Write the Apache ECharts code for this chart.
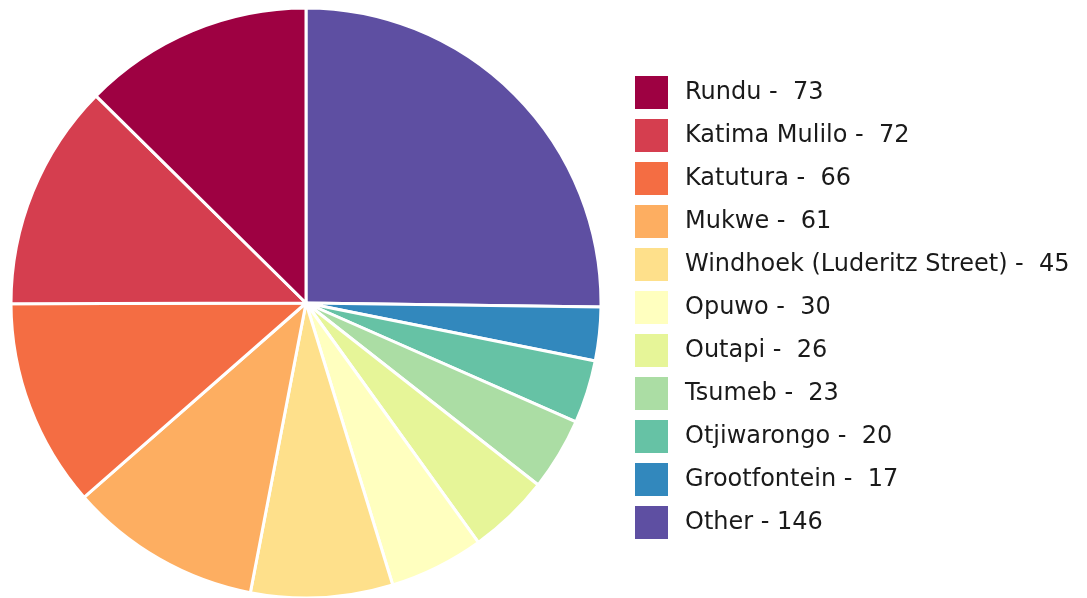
<!DOCTYPE html>
<html>
<head>
<meta charset="utf-8">
<script src="https://cdn.jsdelivr.net/npm/echarts@6/dist/echarts.min.js"></script>
<style>
html,body{margin:0;padding:0;background:#fff;}
#main{width:1087px;height:598px;}
</style>
</head>
<body>
<div id="main"></div>
<script>
// Legend order (top to bottom)
const names = ["Rundu","Katima Mulilo","Katutura","Mukwe","Windhoek (Luderitz Street)","Opuwo","Outapi","Tsumeb","Otjiwarongo","Grootfontein","Other"];
const values = [73,72,66,61,45,30,26,23,20,17,146];
const colors = ["#9E0142","#D53E4F","#F46D43","#FDAE61","#FEE08B","#FFFFBF","#E6F598","#ABDDA4","#66C2A5","#3288BD","#5E4FA2"];
// Clockwise drawing order starting at 12 o'clock
const drawOrder = ["Other","Grootfontein","Otjiwarongo","Tsumeb","Outapi","Opuwo","Windhoek (Luderitz Street)","Mukwe","Katutura","Katima Mulilo","Rundu"];

const valueOf = {}; const colorOf = {};
names.forEach((n,i)=>{ valueOf[n]=values[i]; colorOf[n]=colors[i]; });

const pieData = drawOrder.map(n => ({name:n, value:valueOf[n], itemStyle:{color:colorOf[n]}}));

const chart = echarts.init(document.getElementById('main'), null, {renderer:'canvas'});
chart.setOption({
  animation:false,
  backgroundColor:'#ffffff',
  legend:{
    orient:'vertical',
    left:635, top:76,
    padding:0,
    itemWidth:33, itemHeight:33, itemGap:10,
    icon:'rect',
    itemStyle:{borderWidth:0},
    selectedMode:false,
    data:names,
    formatter: n => n + ' - ' + String(valueOf[n]).padStart(3,' '),
    textStyle:{fontFamily:'DejaVu Sans, sans-serif', fontSize:24, color:'#1a1a1a', padding:[0,0,0,12]}
  },
  series:[{
    type:'pie',
    center:[306,303],
    radius:[0,295],
    startAngle:90,
    clockwise:true,
    label:{show:false},
    labelLine:{show:false},
    emphasis:{disabled:true},
    itemStyle:{borderColor:'#ffffff', borderWidth:3},
    data:pieData
  }]
});
</script>
</body>
</html>
